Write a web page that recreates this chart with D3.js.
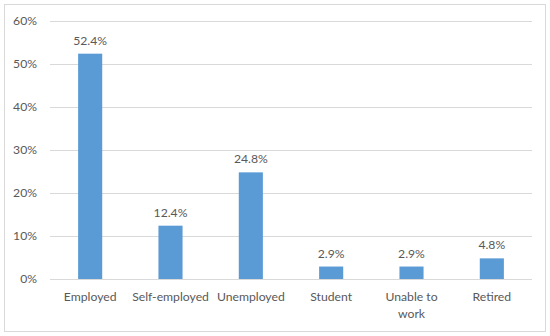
<!DOCTYPE html>
<html>
<head>
<meta charset="utf-8">
<script src="https://cdn.jsdelivr.net/npm/d3@7"></script>
<style>
  body { margin: 0; background: #fff; }
  svg text { font-family: Lato, "Liberation Sans", sans-serif; fill: #595959; }
</style>
</head>
<body>
<svg id="chart" width="550" height="336"></svg>
<script>
// chart data
const categories = ["Employed", "Self-employed", "Unemployed", "Student", "Unable to work", "Retired"];
const values = [52.4, 12.4, 24.8, 2.9, 2.9, 4.8];
const yTicks = [0, 10, 20, 30, 40, 50, 60];

const svg = d3.select("#chart"),
  width = +svg.attr("width"),
  height = +svg.attr("height");

const margin = {top: 21, right: 18, bottom: 57, left: 50};
const fontSize = 12.2;

// outer frame
svg.append("rect")
  .attr("x", 4.5).attr("y", 4.5)
  .attr("width", width - 9).attr("height", height - 9)
  .attr("fill", "#fff").attr("stroke", "#d9d9d9");

const x = d3.scaleBand()
  .domain(categories)
  .range([margin.left, width - margin.right])
  .paddingInner(0.7).paddingOuter(0.35);

const y = d3.scaleLinear()
  .domain([0, 60])
  .range([height - margin.bottom, margin.top]);

// gridlines
svg.append("g")
  .selectAll("line")
  .data(yTicks)
  .join("line")
  .attr("x1", margin.left).attr("x2", width - margin.right)
  .attr("y1", d => Math.round(y(d)) + 0.5).attr("y2", d => Math.round(y(d)) + 0.5)
  .attr("stroke", "#d9d9d9");

// y axis labels
const yAxis = svg.append("g")
  .attr("transform", `translate(${margin.left},0)`)
  .call(d3.axisLeft(y).tickValues(yTicks).tickFormat(d => d + "%").tickSize(0).tickPadding(13));
yAxis.select(".domain").remove();
yAxis.selectAll("text").attr("font-size", fontSize).style("fill", "#595959")
  .attr("font-family", "Lato, 'Liberation Sans', sans-serif");

// bars
svg.append("g")
  .selectAll("rect")
  .data(values)
  .join("rect")
  .attr("x", (d, i) => x(categories[i]))
  .attr("width", x.bandwidth())
  .attr("y", d => y(d))
  .attr("height", d => y(0) - y(d))
  .attr("fill", "#5b9bd5");

// value labels
svg.append("g")
  .selectAll("text")
  .data(values)
  .join("text")
  .attr("x", (d, i) => x(categories[i]) + x.bandwidth() / 2)
  .attr("y", d => y(d) - 9)
  .attr("text-anchor", "middle")
  .attr("font-size", fontSize)
  .text(d => d.toFixed(1) + "%");

// category labels (wrap long ones)
svg.append("g")
  .selectAll("text")
  .data(categories)
  .join("text")
  .attr("text-anchor", "middle")
  .attr("font-size", fontSize)
  .attr("transform", d => `translate(${x(d) + x.bandwidth() / 2},${y(0) + 22})`)
  .each(function (d) {
    const t = d3.select(this);
    const lines = d === "Unable to work" ? ["Unable to", "work"] : [d];
    lines.forEach((l, i) => t.append("tspan").attr("x", 0).attr("dy", i ? 16.5 : 0).text(l));
  });
</script>
</body>
</html>
